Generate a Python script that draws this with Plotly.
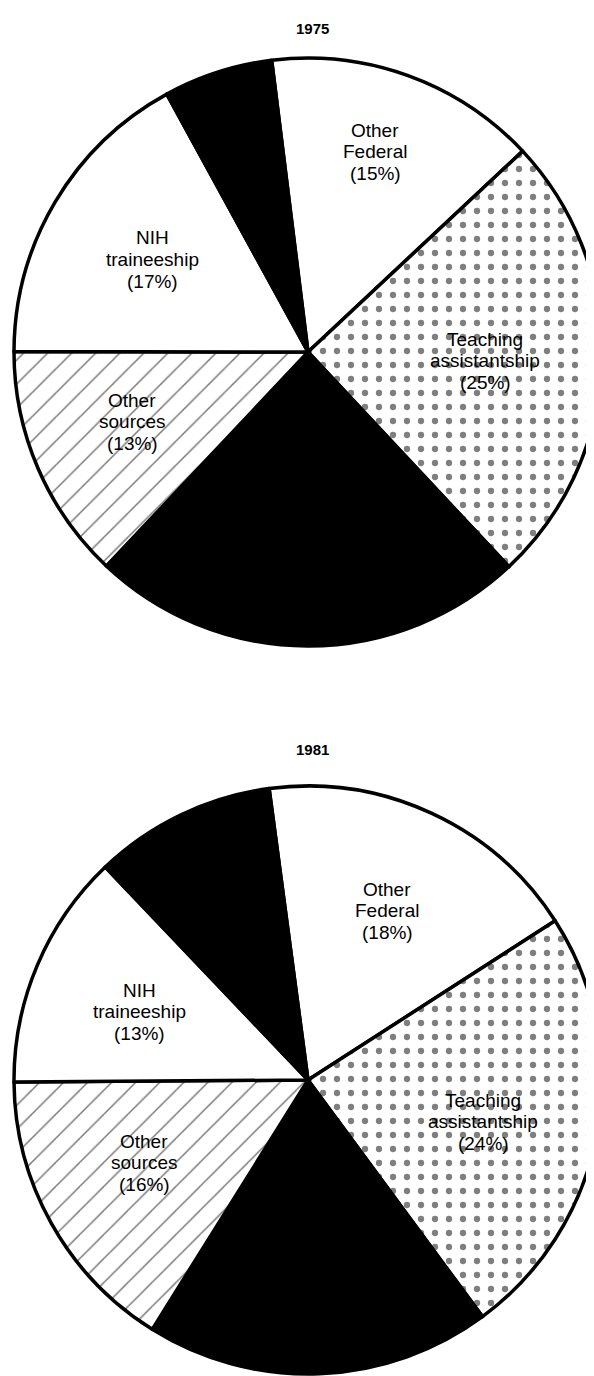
import plotly.graph_objects as go

# ---------------- data ----------------
years = ["1975", "1981"]
sectors = [
    "Other Federal",
    "Teaching assistantship",
    "Unlabeled dark sector (large)",
    "Other sources",
    "NIH traineeship",
    "Unlabeled dark sector (small)",
]
share_1975 = [15, 25, 24, 13, 17, 6]
share_1981 = [18, 24, 19, 16, 13, 10]
# printed label lines (None = sector has no printed label)
label_words = [
    ["Other", "Federal"],
    ["Teaching", "assistantship"],
    None,
    ["Other", "sources"],
    ["NIH", "traineeship"],
    None,
]

# ---------------- styling / layout ----------------
W, H = 594, 1376
fills = ["white", "white", "black", "white", "white", "black"]
shapes = ["", ".", "", "/", "", ""]
pat_size = [8, 14, 8, 17, 8, 8]
pat_solid = [0.2, 0.16, 0.2, 0.09, 0.2, 0.2]

pie_geom = {
    # centre x, centre y (px from top), radius, rotation
    "1975": dict(cx=300, cy=344, r=294, rot=-7.1, title_y=20),
    "1981": dict(cx=300, cy=1072, r=294, rot=-7.6, title_y=741),
}
# first-line centre of each printed label (px)
label_pos = {
    "1975": [(367, 122), (477, 331), None, (124, 392), (144, 230), None],
    "1981": [(379, 881), (475, 1092), None, (136, 1133), (131, 982), None],
}
line_gap = 21.7

fig = go.Figure()
annotations = []
for year, shares in zip(years, [share_1975, share_1981]):
    g = pie_geom[year]
    x0 = (g["cx"] - g["r"]) / W
    x1 = min(1.0, (g["cx"] + g["r"]) / W)
    y0 = 1 - (g["cy"] + g["r"]) / H
    y1 = 1 - (g["cy"] - g["r"]) / H
    fig.add_trace(go.Pie(
        labels=sectors,
        values=shares,
        sort=False,
        direction="clockwise",
        rotation=g["rot"],
        textinfo="none",
        hoverinfo="label+value",
        domain=dict(x=[x0, x1], y=[y0, y1]),
        marker=dict(
            colors=fills,
            line=dict(color="black", width=3.5),
            pattern=dict(shape=shapes, fgcolor="black", size=pat_size,
                         solidity=pat_solid, fillmode="overlay"),
        ),
        showlegend=False,
    ))
    annotations.append(dict(
        x=g["cx"] / W + 0.008, y=1 - g["title_y"] / H, xref="paper", yref="paper",
        text="<b>" + year + "</b>", showarrow=False,
        font=dict(family="Liberation Sans, Arial, sans-serif", size=15, color="black"),
        xanchor="center", yanchor="middle",
    ))
    for words, val, pos in zip(label_words, shares, label_pos[year]):
        if words is None:
            continue
        lines = words + ["(%d%%)" % val]
        for k, ln in enumerate(lines):
            annotations.append(dict(
                x=pos[0] / W, y=1 - (pos[1] + k * line_gap) / H,
                xref="paper", yref="paper", text=ln, showarrow=False,
                font=dict(family="Liberation Sans, Arial, sans-serif", size=19, color="black"),
                xanchor="center", yanchor="middle",
            ))

fig.update_layout(
    width=W, height=H,
    margin=dict(l=0, r=0, t=0, b=0),
    paper_bgcolor="white", plot_bgcolor="white",
    annotations=annotations,
    showlegend=False,
)
fig.write_html("out.html")
